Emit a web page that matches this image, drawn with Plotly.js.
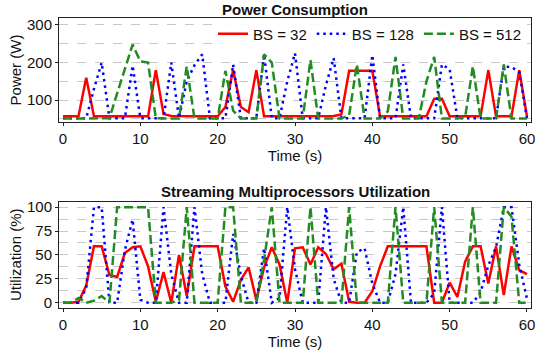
<!DOCTYPE html>
<html>
<head>
<meta charset="utf-8">
<script src="https://cdn.plot.ly/plotly-3.0.1.min.js"></script>
<style>html,body{margin:0;padding:0;background:#fff;}#chart{width:535px;height:351px;}</style>
</head>
<body>
<div id="chart"></div>
<script>
// ---- data ----
const timeS = [0,1,2,3,4,5,6,7,8,9,10,11,12,13,14,15,16,17,18,19,20,21,22,23,24,25,26,27,28,29,30,31,32,33,34,35,36,37,38,39,40,41,42,43,44,45,46,47,48,49,50,51,52,53,54,55,56,57,58,59,60];
const seriesNames = ["BS = 32", "BS = 128", "BS = 512"];

// Power consumption (W)
const powerBS32  = [57,57,57,160,57,57,57,57,57,57,57,57,180,63,58,57,57,57,57,57,57,82,180,82,68,180,57,57,57,57,57,57,57,57,57,58,62,178,178,178,178,57,57,57,57,57,57,57,104,104,57,57,57,57,57,180,57,57,57,180,57];
const powerBS128 = [52,52,52,52,130,200,52,52,52,192,52,52,52,52,200,52,150,193,222,52,52,52,195,52,52,52,222,52,52,150,225,52,52,52,140,212,52,52,52,52,220,52,52,52,195,52,52,52,52,195,182,52,52,52,52,52,52,190,188,175,52];
const powerBS512 = [51,51,51,51,51,51,52,118,183,248,203,200,52,51,51,51,190,51,51,51,51,178,72,51,51,51,222,200,51,51,51,51,207,51,51,51,51,60,195,51,51,51,70,215,51,51,51,150,215,51,51,51,55,190,51,51,51,195,51,51,51];

// Streaming multiprocessors utilization (%)
const utilBS32  = [0,0,1,18,59,59,29,27,52,58,59,38,1,32,0,50,7,59,59,59,59,17,1,24,37,3,37,58,40,0,57,58,40,58,51,35,41,1,0,0,12,38,59,59,59,59,59,59,0,0,21,6,43,59,59,20,59,8,59,34,30];
const utilBS128 = [0,0,0,15,100,100,0,0,55,87,3,0,0,100,30,0,0,100,30,0,0,0,72,28,0,0,57,0,5,100,35,0,0,0,100,25,0,0,53,57,20,0,0,30,100,0,0,0,10,100,0,0,0,0,11,39,58,100,100,40,4];
const utilBS512 = [0,0,5,0,2,7,0,100,100,100,100,100,0,0,0,3,100,0,0,0,0,100,100,0,0,0,45,100,0,0,0,0,100,0,0,0,0,100,0,0,0,0,0,100,0,0,0,0,100,0,0,0,0,100,0,0,0,100,90,0,0];

const panelTitles = ["Power Consumption", "Streaming Multiprocessors Utilization"];
const xTitle = "Time (s)";
const yTitles = ["Power (W)", "Utilization (%)"];

// ---- styles ----
const FONT = "Liberation Sans, Arial, Helvetica, sans-serif";
const styles = [
  {color: "#ff0000", dash: "solid"},
  {color: "#0000ff", dash: "2.5px,4px"},
  {color: "#228b22", dash: "9px,4px"}
];
const powerSets = [powerBS32, powerBS128, powerBS512];
const utilSets = [utilBS32, utilBS128, utilBS512];

const traces = [];
powerSets.forEach((ys, i) => {
  traces.push({x: timeS, y: ys, name: seriesNames[i], type: "scatter", mode: "lines",
    xaxis: "x", yaxis: "y", showlegend: true,
    line: {color: styles[i].color, dash: styles[i].dash, width: 2.5}});
});
utilSets.forEach((ys, i) => {
  traces.push({x: timeS, y: ys, name: seriesNames[i], type: "scatter", mode: "lines",
    xaxis: "x2", yaxis: "y2", showlegend: false,
    line: {color: styles[i].color, dash: styles[i].dash, width: 2.5}});
});

const W = 535, H = 351;
const xDom = [59 / W, 531 / W];
const yDomTop = [1 - 122 / H, 1 - 18 / H];
const yDomBot = [1 - 308 / H, 1 - 201.5 / H];

const xAxisBase = {
  range: [-0.52, 60.52], dtick: 10, tick0: 0, showgrid: false, zeroline: false,
  showline: true, mirror: true, linecolor: "#222", linewidth: 1,
  ticks: "outside", ticklen: 3, tickcolor: "#222", ticklabeloverflow: "allow",
  tickfont: {family: FONT, size: 15, color: "#111"},
  title: {text: xTitle, font: {family: FONT, size: 15, color: "#111"}, standoff: 4}
};
const gridCol = "#c8c8c8";

const layout = {
  width: W, height: H,
  margin: {l: 0, r: 0, t: 0, b: 0},
  paper_bgcolor: "#fff", plot_bgcolor: "#fff",
  font: {family: FONT, size: 15, color: "#111"},
  showlegend: true,
  legend: {orientation: "h", x: 0.985, xanchor: "right", y: 0.95, yanchor: "top",
    bgcolor: "rgba(255,255,255,0.9)", borderwidth: 0,
    font: {family: FONT, size: 15, color: "#111"}},
  xaxis: Object.assign({}, xAxisBase, {domain: xDom, anchor: "y"}),
  xaxis2: Object.assign({}, xAxisBase, {domain: xDom, anchor: "y2"}),
  yaxis: {
    domain: yDomTop, anchor: "x", range: [42, 318.6], dtick: 100, tick0: 0,
    showline: true, mirror: true, linecolor: "#222", linewidth: 1, zeroline: false,
    ticks: "outside", ticklen: 3, tickcolor: "#222",
    tickfont: {family: FONT, size: 15, color: "#111"},
    showgrid: true, gridcolor: gridCol, griddash: "dash", gridwidth: 1,
    minor: {dtick: 50, tick0: 0, showgrid: true, gridcolor: gridCol, griddash: "dash", gridwidth: 1},
    title: {text: yTitles[0], font: {family: FONT, size: 15, color: "#111"}, standoff: 1}
  },
  yaxis2: {
    domain: yDomBot, anchor: "x2", range: [-5.5, 105.9], dtick: 25, tick0: 0,
    showline: true, mirror: true, linecolor: "#222", linewidth: 1, zeroline: false,
    ticks: "outside", ticklen: 3, tickcolor: "#222",
    tickfont: {family: FONT, size: 15, color: "#111"},
    showgrid: true, gridcolor: gridCol, griddash: "dash", gridwidth: 1,
    minor: {dtick: 12.5, tick0: 0, showgrid: true, gridcolor: gridCol, griddash: "dash", gridwidth: 1},
    title: {text: yTitles[1], font: {family: FONT, size: 15, color: "#111"}, standoff: 1}
  },
  annotations: [
    {text: "<b>" + panelTitles[0] + "</b>", xref: "paper", yref: "paper",
     x: (xDom[0] + xDom[1]) / 2, y: 1 - 10 / H, xanchor: "center", yanchor: "middle",
     showarrow: false, font: {family: FONT, size: 15, color: "#111"}},
    {text: "<b>" + panelTitles[1] + "</b>", xref: "paper", yref: "paper",
     x: (xDom[0] + xDom[1]) / 2, y: 1 - 191 / H, xanchor: "center", yanchor: "middle",
     showarrow: false, font: {family: FONT, size: 15, color: "#111"}}
  ]
};

Plotly.newPlot("chart", traces, layout, {staticPlot: true, displayModeBar: false});
</script>
</body>
</html>
